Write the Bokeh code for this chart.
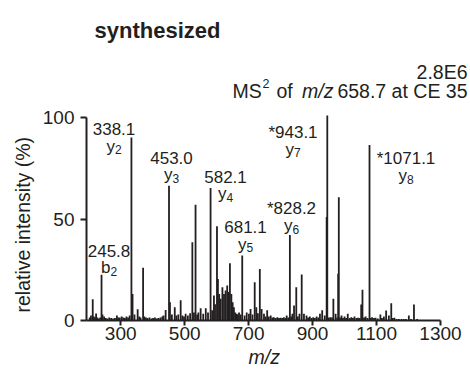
from bokeh.plotting import figure
from bokeh.models import Label, FixedTicker, Range1d, Title
from bokeh.embed import file_html
from bokeh.resources import INLINE

# ---------------- data ----------------
mz = [203, 207, 212.5, 216, 220, 223, 227, 232, 236, 240, 243, 248, 253, 258, 264,
      270, 276, 282, 288, 292, 297, 303, 308, 313, 318, 323, 328, 333.5, 337, 343,
      353, 358, 362, 370, 374, 379, 384, 390, 396, 401, 407, 413, 418, 424, 430,
      434, 440.5, 451, 454, 460, 469, 474, 480, 487.5, 493, 498, 503, 510, 517,
      524, 529, 534, 539, 543, 550, 558, 566, 573, 581, 586, 591.5, 595, 601, 604,
      608, 612.5, 618, 623, 628, 633, 637.5, 641.5, 646, 650, 654, 658, 662.5, 666,
      670, 675, 680, 687.5, 694, 701, 706, 712, 719, 724, 729, 735, 740.6, 748, 753,
      758, 763, 769, 774, 779, 785, 790, 795, 800, 805, 810, 815, 819, 824, 829, 833,
      837, 842, 849, 854, 859, 866, 873, 881, 886, 891.5, 897, 902, 907, 912.5, 918,
      923, 930, 938, 944, 946, 951, 956, 961, 965, 972, 977, 980, 982, 986, 990.6,
      995, 1000, 1005, 1010, 1016, 1021, 1026, 1031, 1037, 1042, 1047, 1052, 1056,
      1061, 1066, 1072, 1078, 1082, 1086, 1092, 1097, 1104, 1112, 1117, 1123, 1130,
      1138.5, 1146, 1151, 1156, 1163, 1170, 1178, 1185, 1192, 1201, 1208, 1217, 1227]
intensity = [1.5, 2.5, 10.5, 2, 1.5, 3.5, 1.5, 1, 1.5, 22.5, 3, 2, 1.2, 1, 1.5,
             1.2, 1, 1.2, 2.5, 1.5, 1.5, 2, 1.5, 1.2, 2, 1.5, 2.5, 90.2, 13, 3,
             5.5, 2, 1.5, 26, 2, 1.5, 1.2, 1.5, 1, 1.2, 1.5, 1, 1.2, 1.5, 2,
             2.5, 5.2, 66.4, 9, 3, 6.5, 2.5, 3, 10, 2.5, 2, 3.3, 2.5, 3.6,
             38.5, 4, 57, 3, 4, 6, 3.3, 6, 4, 65.3, 5, 12.3, 8, 46.4, 20.5,
             13, 10.7, 16.4, 13, 14.8, 17.2, 14, 28.2, 13, 9, 6.5, 4, 3.3, 3,
             4, 3, 32, 2.5, 4, 3.3, 5.7, 3, 18.9, 6.5, 3.6, 25.4, 5.7, 3.3, 2,
             5, 2, 2.5, 1.5, 1.6, 1.2, 1.6, 1.2, 1.3, 1.2, 1.6, 1.2, 2.5, 1.5, 42.1, 2,
             3.3, 7.4, 16.4, 2, 3.3, 22.6, 3.3, 2.5, 1.5, 2, 1.2, 1.6, 1.2, 2, 1.5,
             3.3, 5, 2.5, 51, 101, 1.5, 1.6, 1.5, 10.7, 3.3, 1.5, 23, 60.7, 1.5, 2.5,
             1.2, 2, 1.2, 3.3, 1.2, 1.6, 1.2, 2, 1.2, 1.3, 1.2, 7.9, 15.1,
             1.5, 2, 1.2, 86.4, 1.2, 1.6, 1.2, 1.3, 1, 3, 1.2, 2, 4.9,
             2.5, 8.5, 1.2, 1.3, 0.8, 0.8, 0.8, 0.8, 0.8, 2.5, 0.8, 7.9, 0.8]

x_ticks = [300, 500, 700, 900, 1100, 1300]
y_ticks = [0, 50, 100]

peak_values = ["245.8", "338.1", "453.0", "582.1", "681.1", "*828.2", "*943.1", "*1071.1"]
ion_letters = ["b", "y", "y", "y", "y", "y", "y", "y"]
ion_numbers = ["2", "2", "3", "4", "5", "6", "7", "8"]

# ---------------- layout ----------------
W, H = 470, 372
FL, FB = 86, 320            # frame left / bottom (pixels)
AX_R = 440                  # pixel of m/z 1300
X0, XT = 193, 1300
SX = (AX_R - FL) / (XT - X0)          # px per m/z unit
SY = 203.0 / 100.0                    # px per % unit
X1 = XT + (W - AX_R) / SX             # frame reaches the right edge
Y1 = FB / SY                          # frame reaches the top edge


def dx(px):
    return X0 + (px - FL) / SX


def dy(py):
    return (FB - py) / SY


INK = "#231f20"
FONT = "Liberation Sans"

p = figure(width=W, height=H, output_backend="svg", toolbar_location=None,
           x_range=Range1d(X0, X1), y_range=Range1d(0, Y1),
           min_border_left=FL, min_border_right=0,
           min_border_top=0, min_border_bottom=H - FB)
p.outline_line_color = None
p.grid.visible = False
p.background_fill_color = "white"
p.border_fill_color = "white"

p.segment(x0=mz, y0=[0] * len(mz), x1=mz, y1=intensity,
          line_color=INK, line_width=1.8)

for ax in (p.xaxis, p.yaxis):
    ax.axis_line_color = INK
    ax.axis_line_width = 2
    ax.major_tick_line_color = INK
    ax.major_tick_line_width = 2
    ax.minor_tick_line_color = None
    ax.major_tick_in = 0
    ax.major_label_text_font = FONT
    ax.major_label_text_font_size = "19px"
    ax.major_label_text_color = INK

p.xaxis.ticker = FixedTicker(ticks=x_ticks)
p.xaxis.bounds = (X0, XT)
p.xaxis.major_tick_out = 5
p.xaxis.major_label_standoff = 1
p.yaxis.ticker = FixedTicker(ticks=y_ticks)
p.yaxis.bounds = (0, 100)
p.yaxis.major_tick_out = 6
p.yaxis.major_label_standoff = 6

# axis titles as side titles (not clipped)
p.add_layout(Title(text="m/z", align="left", offset=162, standoff=2,
                   text_font=FONT, text_font_size="19.5px",
                   text_font_style="italic", text_color=INK), "below")
p.add_layout(Title(text="relative intensity (%)", align="left", offset=8,
                   standoff=11, text_font=FONT, text_font_size="19.5px",
                   text_font_style="normal", text_color=INK), "left")


def add_text(px, py, text, size=17, align="left", style="normal"):
    p.add_layout(Label(x=dx(px), y=dy(py), text=text, text_font=FONT,
                       text_font_size=f"{size}px", text_color=INK,
                       text_align=align, text_baseline="alphabetic",
                       text_font_style=style))


# titles (inside the enlarged frame)
add_text(94, 30, "synthesized", size=22, style="bold")
add_text(467, 71, "2.8E6", size=19.5, align="right")
add_text(232, 90, "MS", size=19.5)
add_text(262, 82.5, "2", size=12.5)
add_text(276, 90, "of", size=19.5)
add_text(301.5, 90, "m/z", size=19.5, style="italic")
add_text(467, 90, "658.7 at CE 35", size=19.5, align="right")

# peak annotations: centre x, baseline of value line (pixels)
label_cx = [108.5, 113.5, 171, 225, 245, 291, 292.5, 405.5]
label_base = [250, 128.5, 157.3, 176, 226.7, 208.3, 131.7, 158.3]
for val, let, num, cx, by in zip(peak_values, ion_letters, ion_numbers,
                                 label_cx, label_base):
    add_text(cx, by, val, size=17, align="center")
    lw = (0.556 if let == "b" else 0.5) * 17
    sw = 0.556 * 12
    left = cx - (lw + sw) / 2
    iy = by + 17
    add_text(left, iy, let, size=17)
    add_text(left + lw, iy + 3.5, num, size=12)

open("out.html", "w").write(file_html(p, INLINE))
